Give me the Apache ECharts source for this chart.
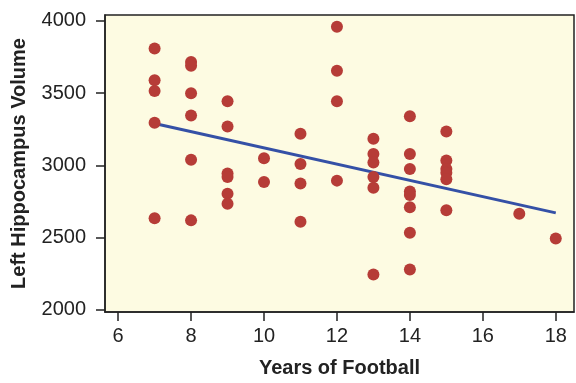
<!DOCTYPE html>
<html>
<head>
<meta charset="utf-8">
<script src="https://cdn.jsdelivr.net/npm/echarts@6/dist/echarts.min.js"></script>
<style>
  html, body { margin: 0; padding: 0; background: #fff; }
  #main { width: 576px; height: 383px; }
</style>
</head>
<body>
<div id="main"></div>
<script>
// years of football for each player, and left hippocampus volume
const years = [7, 7, 7, 7, 7,
  8, 8, 8, 8, 8, 8,
  9, 9, 9, 9, 9, 9,
  10, 10,
  11, 11, 11, 11,
  12, 12, 12, 12,
  13, 13, 13, 13, 13, 13,
  14, 14, 14, 14, 14, 14, 14, 14,
  15, 15, 15, 15, 15, 15,
  17, 18]
const volumes = [3810, 3590, 3515, 3295, 2635,
  3715, 3690, 3500, 3345, 3040, 2620,
  3445, 3270, 2945, 2920, 2805, 2735,
  3050, 2885,
  3220, 3010, 2875, 2610,
  3960, 3655, 3445, 2895,
  3185, 3080, 3020, 2920, 2845, 2245,
  3340, 3080, 2975, 2820, 2795, 2710, 2535, 2280,
  3235, 3035, 2975, 2950, 2905, 2690,
  2665, 2495]

// regression line end points
const fitX = [7, 18]
const fitY = [3290, 2672]

const xTicks = [6, 8, 10, 12, 14, 16, 18]
const yTicks = [2000, 2500, 3000, 3500, 4000]

const points = years.map((y, i) => [y, volumes[i]])
const fitLine = fitX.map((x, i) => [x, fitY[i]])

const font = '"Liberation Sans", Arial, sans-serif'
const ink = '#222'

let chart = echarts.init(document.getElementById('main'))
chart.setOption({
  animation: false,
  grid: {
    left: 105, top: 15, right: 2, bottom: 66,
    show: true,
    backgroundColor: '#fdfbe2',
    borderColor: ink,
    borderWidth: 1.5
  },
  xAxis: {
    type: 'value',
    min: 5.64,
    max: 18.5,
    name: 'Years of Football',
    nameLocation: 'middle',
    nameGap: 46,
    nameTextStyle: { fontFamily: font, fontWeight: 'bold', fontSize: 20, color: ink },
    axisLine: { show: true, lineStyle: { color: ink, width: 1.5 } },
    axisTick: { show: true, length: 9, customValues: xTicks, lineStyle: { color: ink, width: 1.5 } },
    axisLabel: { customValues: xTicks, margin: 14, fontFamily: font, fontSize: 20, color: ink },
    splitLine: { show: false }
  },
  yAxis: {
    type: 'value',
    min: 1986,
    max: 4041,
    name: 'Left Hippocampus Volume',
    nameLocation: 'middle',
    nameGap: 76,
    nameTextStyle: { fontFamily: font, fontWeight: 'bold', fontSize: 20, color: ink },
    axisLine: { show: true, lineStyle: { color: ink, width: 1.5 } },
    axisTick: { show: true, length: 9, customValues: yTicks, lineStyle: { color: ink, width: 1.5 } },
    axisLabel: {
      customValues: yTicks, margin: 19, fontFamily: font, fontSize: 20, color: ink,
      formatter: v => String(v)
    },
    splitLine: { show: false }
  },
  series: [
    {
      type: 'line',
      data: fitLine,
      symbol: 'none',
      lineStyle: { color: '#3450a6', width: 3 },
      z: 2
    },
    {
      type: 'scatter',
      data: points,
      symbolSize: 12,
      itemStyle: { color: '#b63c37', opacity: 1 },
      z: 3
    }
  ]
})
</script>
</body>
</html>
